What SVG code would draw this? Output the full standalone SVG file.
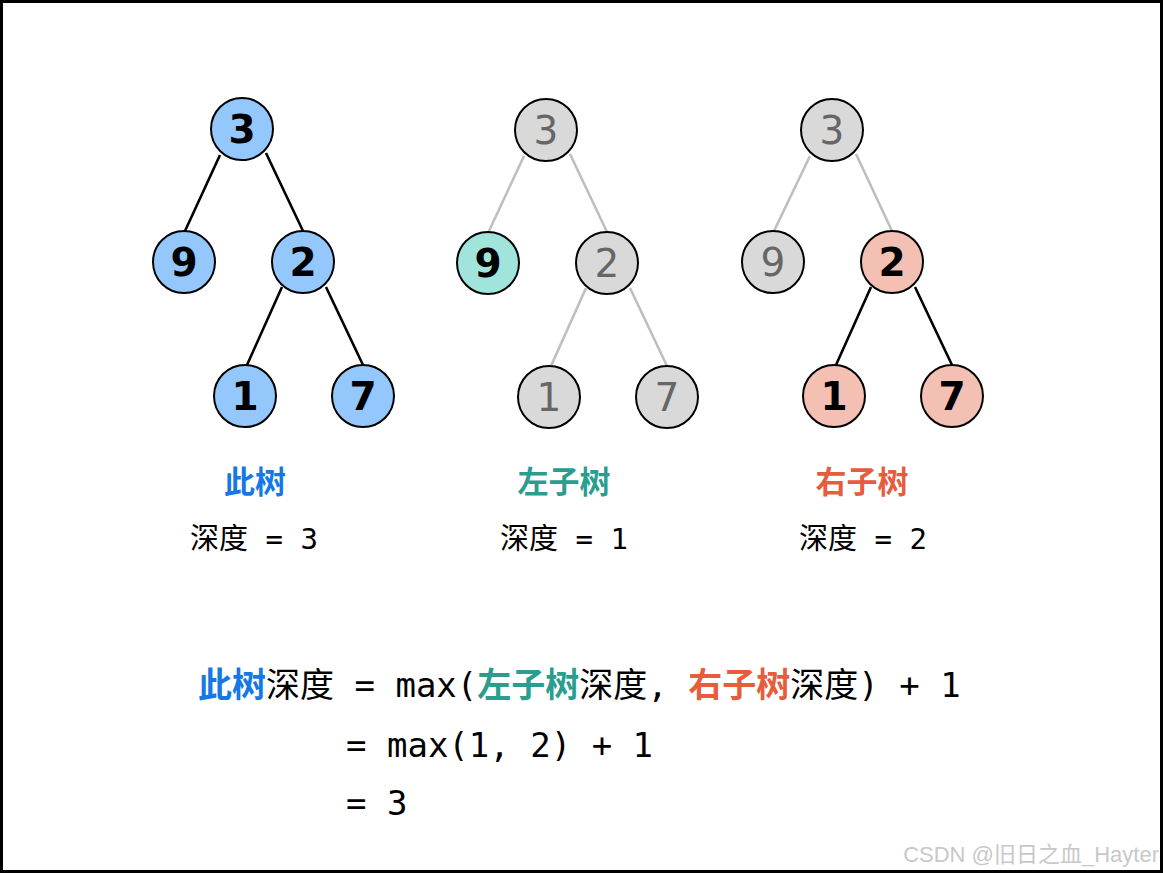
<svg xmlns="http://www.w3.org/2000/svg" width="1163" height="873" viewBox="0 0 1163 873">
<style>
.n{stroke:#000;stroke-width:2}
.blue{fill:#94c7fb}.teal{fill:#a1e4dc}.sal{fill:#f4c0b3}.gray{fill:#d9d9d9}
.nb{font-family:"DejaVu Sans",sans-serif;font-weight:bold;font-size:39px;text-anchor:middle;fill:#000}
.ng{font-family:"DejaVu Sans",sans-serif;font-size:39px;text-anchor:middle;fill:#666}
.eb{stroke:#000;stroke-width:2.6;fill:none}
.eg{stroke:#bfbfbf;stroke-width:2.6;fill:none}
.lab{font-family:"Noto Sans CJK SC",sans-serif;font-weight:bold;font-size:31px;text-anchor:middle}
.m{font-family:"DejaVu Sans Mono","Noto Sans CJK SC",monospace;fill:#000}
.cb{fill:#1677e6}.ct{fill:#2a9d8f}.cr{fill:#e65c3c}
</style>
<rect x="1.5" y="1.5" width="1160" height="870" fill="#fff" stroke="#000" stroke-width="3"/>
<g id="connectors">
<path class="eb" d="M220 155L185 231M266 153L303 231M282 287L247 365M326 287L363 365"/>
<path class="eg" d="M524 156L489 231M570 154L607 232M586 288L551 366M630 288L667 366"/>
<path class="eg" d="M810 156L774 231M856 154L892 231"/>
<path class="eb" d="M871 287L836 365M915 287L952 365"/>
</g>
<g id="t1-3"><circle class="n blue" cx="242" cy="129" r="31"/><text class="nb" x="242" y="143">3</text></g>
<g id="t1-9"><circle class="n blue" cx="184" cy="262" r="31"/><text class="nb" x="184" y="276">9</text></g>
<g id="t1-2"><circle class="n blue" cx="303" cy="262" r="31"/><text class="nb" x="303" y="276">2</text></g>
<g id="t1-1"><circle class="n blue" cx="245" cy="396" r="31"/><text class="nb" x="245" y="410">1</text></g>
<g id="t1-7"><circle class="n blue" cx="363" cy="396" r="31"/><text class="nb" x="363" y="410">7</text></g>
<g id="t2-3"><circle class="n gray" cx="546" cy="130" r="31"/><text class="ng" x="546" y="144">3</text></g>
<g id="t2-9"><circle class="n teal" cx="488" cy="263" r="31"/><text class="nb" x="488" y="277">9</text></g>
<g id="t2-2"><circle class="n gray" cx="607" cy="263" r="31"/><text class="ng" x="607" y="277">2</text></g>
<g id="t2-1"><circle class="n gray" cx="549" cy="397" r="31"/><text class="ng" x="549" y="411">1</text></g>
<g id="t2-7"><circle class="n gray" cx="667" cy="397" r="31"/><text class="ng" x="667" y="411">7</text></g>
<g id="t3-3"><circle class="n gray" cx="832" cy="130" r="31"/><text class="ng" x="832" y="144">3</text></g>
<g id="t3-9"><circle class="n gray" cx="773" cy="262" r="31"/><text class="ng" x="773" y="276">9</text></g>
<g id="t3-2"><circle class="n sal" cx="892" cy="262" r="31"/><text class="nb" x="892" y="276">2</text></g>
<g id="t3-1"><circle class="n sal" cx="834" cy="396" r="31"/><text class="nb" x="834" y="410">1</text></g>
<g id="t3-7"><circle class="n sal" cx="952" cy="396" r="31"/><text class="nb" x="952" y="410">7</text></g>
<g id="labels">
<text class="lab cb" x="255" y="493">此树</text>
<text class="lab ct" x="564" y="493">左子树</text>
<text class="lab cr" x="862" y="493">右子树</text>
<text class="m" x="190" y="549" font-size="29">深度 = 3</text>
<text class="m" x="500" y="549" font-size="29">深度 = 1</text>
<text class="m" x="799" y="549" font-size="29">深度 = 2</text>
</g>
<g id="formula" font-size="34">
<text class="m" x="198" y="697"><tspan class="cb" font-weight="bold">此树</tspan>深度 = max(<tspan class="ct" font-weight="bold">左子树</tspan>深度, <tspan class="cr" font-weight="bold">右子树</tspan>深度) + 1</text>
<text class="m" x="346" y="757">= max(1, 2) + 1</text>
<text class="m" x="346" y="815">= 3</text>
</g>
<text x="1159" y="862" font-family="Liberation Sans,Noto Sans CJK SC,sans-serif" font-size="22" fill="#c8c8c8" text-anchor="end">CSDN @旧日之血_Hayter</text>
</svg>
